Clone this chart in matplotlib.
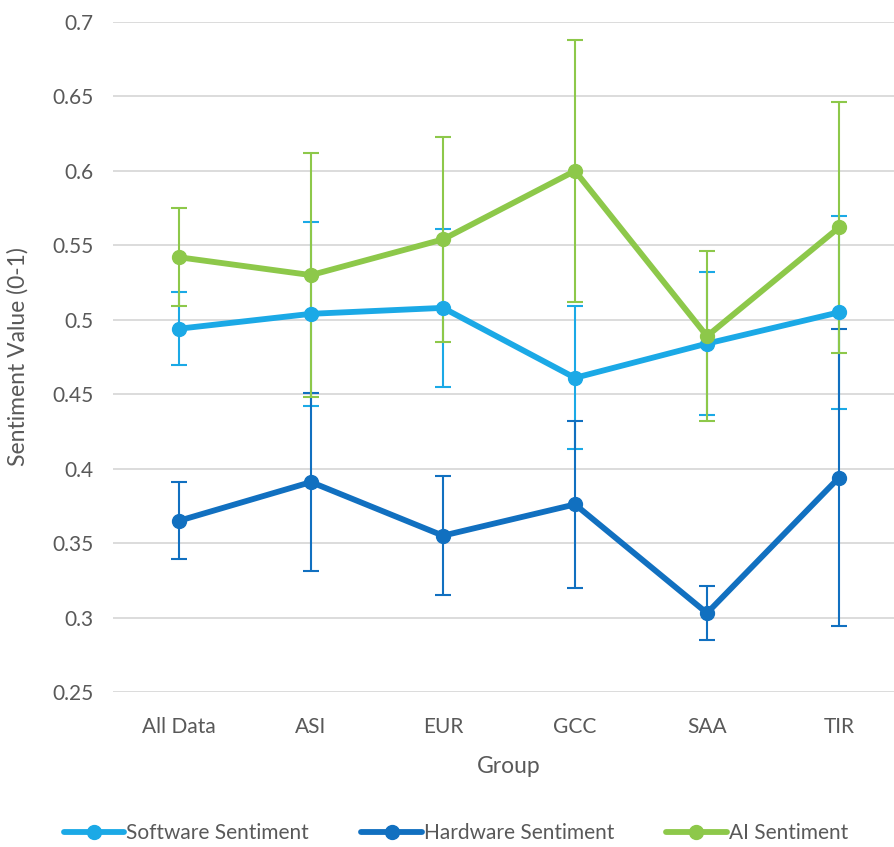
import matplotlib.pyplot as plt

groups = ["All Data", "ASI", "EUR", "GCC", "SAA", "TIR"]

software = [0.494, 0.504, 0.508, 0.461, 0.484, 0.505]
software_err = [0.0245, 0.062, 0.053, 0.048, 0.048, 0.065]

hardware = [0.365, 0.391, 0.355, 0.376, 0.303, 0.394]
hardware_err = [0.026, 0.060, 0.040, 0.056, 0.018, 0.100]

ai = [0.542, 0.530, 0.554, 0.600, 0.489, 0.562]
ai_err = [0.033, 0.082, 0.069, 0.088, 0.057, 0.084]

yticks = [0.25, 0.3, 0.35, 0.4, 0.45, 0.5, 0.55, 0.6, 0.65, 0.7]

plt.rcParams['font.family'] = ['Lato', 'DejaVu Sans']

fig = plt.figure(figsize=(8.95, 8.47), dpi=100)
ax = fig.add_axes([113 / 895, 1 - 692 / 847, 792 / 895, 670 / 847])

x = list(range(len(groups)))
series = [
    ("Software Sentiment", software, software_err, "#1BA9E6"),
    ("Hardware Sentiment", hardware, hardware_err, "#1170C0"),
    ("AI Sentiment", ai, ai_err, "#8DC84A"),
]

for name, vals, errs, col in series:
    ax.errorbar(x, vals, yerr=errs, fmt="none", ecolor=col, elinewidth=1.5,
                capsize=6, capthick=1.5, zorder=2)
for name, vals, errs, col in series:
    ax.plot(x, vals, color=col, lw=4.2, marker="o", markersize=10,
            label=name, zorder=3, solid_capstyle="round")

ax.set_xlim(-0.5, 5.5)
ax.set_ylim(0.25, 0.7)
ax.set_yticks(yticks)
ax.set_yticklabels([f"{t:g}" for t in yticks])
ax.set_xticks(x)
ax.set_xticklabels(groups)
ax.tick_params(length=0, labelsize=15, colors="#595959", pad=14)
ax.tick_params(axis="x", pad=18)
ax.grid(axis="y", color="#D9D9D9", lw=1.3)
ax.set_axisbelow(True)
for s in ax.spines.values():
    s.set_visible(False)

ax.set_xlabel("Group", fontsize=16.5, color="#595959", labelpad=14)
fig.text(18 / 895, 1 - 357 / 847, "Sentiment Value (0-1)", rotation=90,
         fontsize=16.5, color="#595959", ha="center", va="center")

fig.legend(loc="center", bbox_to_anchor=(456 / 895, 1 - 833 / 847), ncol=3,
           frameon=False, fontsize=15, labelcolor="#595959", handlelength=2.9,
           handletextpad=0.1, columnspacing=2.5)

fig.savefig("out.png", dpi=100)
